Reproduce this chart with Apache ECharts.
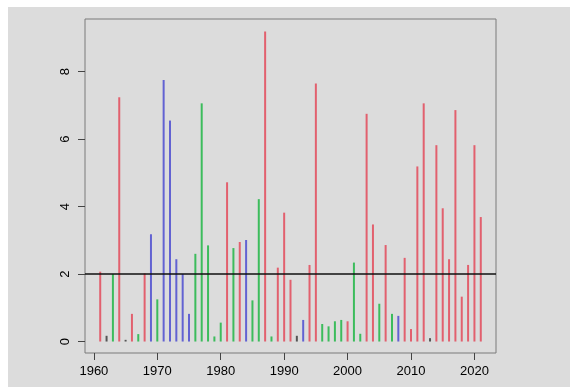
<!DOCTYPE html>
<html>
<head>
<meta charset="utf-8">
<script src="https://cdn.jsdelivr.net/npm/echarts@6/dist/echarts.min.js"></script>
<style>
html,body{margin:0;padding:0;background:#ffffff;}
#c{position:absolute;left:8px;top:7px;width:562px;height:380px;background:#dcdcdc;}
</style>
</head>
<body>
<div id="c"></div>
<script>
const years = [1961,1962,1963,1964,1965,1966,1967,1968,1969,1970,
  1971,1972,1973,1974,1975,1976,1977,1978,1979,1980,
  1981,1982,1983,1984,1985,1986,1987,1988,1989,1990,
  1991,1992,1993,1994,1995,1996,1997,1998,1999,2000,
  2001,2002,2003,2004,2005,2006,2007,2008,2009,2010,
  2011,2012,2013,2014,2015,2016,2017,2018,2019,2020,2021];
const values = [2.07,0.17,2.0,7.24,0.05,0.82,0.22,2.02,3.18,1.25,
  7.75,6.55,2.44,2.0,0.82,2.6,7.06,2.85,0.15,0.56,
  4.72,2.77,2.95,3.01,1.22,4.22,9.19,0.15,2.19,3.82,
  1.83,0.17,0.64,2.27,7.65,0.52,0.45,0.6,0.64,0.6,
  2.34,0.23,6.75,3.47,1.12,2.86,0.82,0.76,2.48,0.37,
  5.19,7.06,0.1,5.82,3.95,2.44,6.86,1.33,2.27,5.82,3.69];
const groups = ['r','k','g','r','k','r','g','r','b','g',
  'b','b','b','b','b','g','g','g','g','g',
  'r','g','r','b','g','g','r','g','r','r',
  'r','k','b','r','r','g','g','g','g','r',
  'g','g','r','r','g','r','g','b','r','r',
  'r','r','k','r','r','r','r','r','r','r','r'];
const xTicks = [1960,1970,1980,1990,2000,2010,2020];
const yTicks = [0,2,4,6,8];
const refLevel = 2;

const palette = {r:'#e2606e', g:'#3cbc5c', b:'#6262d2', k:'#555555'};

const chart = echarts.init(document.getElementById('c'));
chart.setOption({
  animation:false,
  backgroundColor:'#dcdcdc',
  grid:{left:77,top:12,right:74,bottom:34,show:true,borderColor:'#7a7a7a',borderWidth:1,backgroundColor:'transparent'},
  xAxis:{
    type:'value', min:1958.6, max:2023.4,
    splitLine:{show:false},
    axisLine:{show:false,onZero:false},
    axisTick:{show:true,length:7,lineStyle:{color:'#444'},customValues:xTicks},
    axisLabel:{color:'#000',fontSize:13,fontFamily:'Liberation Sans',margin:12,customValues:xTicks,formatter:v=>String(v)}
  },
  yAxis:{
    type:'value', min:-0.34, max:9.56,
    splitLine:{show:false},
    axisLine:{show:false,onZero:false},
    axisTick:{show:true,length:7,lineStyle:{color:'#444'},customValues:yTicks},
    axisLabel:{color:'#000',fontSize:13,fontFamily:'Liberation Sans',rotate:90,margin:13,customValues:yTicks,formatter:v=>String(v)}
  },
  series:[{
    type:'bar',
    barWidth:2,
    data: years.map((y,i)=>({value:[y,values[i]], itemStyle:{color:palette[groups[i]]}})),
    markLine:{
      silent:true, symbol:['none','none'],
      label:{show:false},
      lineStyle:{color:'#111',width:1.5,type:'solid'},
      data:[{yAxis:refLevel}]
    }
  }]
});
</script>
</body>
</html>
